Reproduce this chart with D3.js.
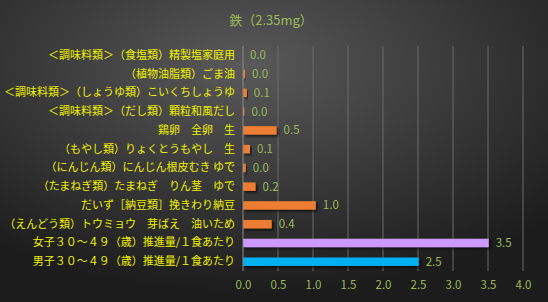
<!DOCTYPE html>
<html>
<head>
<meta charset="utf-8">
<script src="https://cdn.jsdelivr.net/npm/d3@7"></script>
<style>
    body { margin: 0; background: #222; }
    svg text { font-family: "Noto Sans CJK JP", "Noto Sans", sans-serif; }
</style>
</head>
<body>
<div id="chart"></div>
<script>
// 食品名（上から順）
var categories = [
    "＜調味料類＞（食塩類）精製塩家庭用",
    "（植物油脂類）ごま油",
    "＜調味料類＞（しょうゆ類）こいくちしょうゆ",
    "＜調味料類＞（だし類）顆粒和風だし",
    "鶏卵　全卵　生",
    "（もやし類）りょくとうもやし　生",
    "（にんじん類）にんじん根皮むき ゆで",
    "（たまねぎ類）たまねぎ　りん茎　ゆで",
    "だいず［納豆類］挽きわり納豆",
    "（えんどう類）トウミョウ　芽ばえ　油いため",
    "女子３０～４９（歳）推進量/１食あたり",
    "男子３０～４９（歳）推進量/１食あたり"
];
var values = [0.0, 0.03, 0.055, 0.02, 0.48, 0.1, 0.04, 0.18, 1.04, 0.41, 3.51, 2.51];
var labels = ["0.0", "0.0", "0.1", "0.0", "0.5", "0.1", "0.0", "0.2", "1.0", "0.4", "3.5", "2.5"];
var barColors = ["#ed7d31", "#ed7d31", "#ed7d31", "#ed7d31", "#ed7d31", "#ed7d31",
                 "#ed7d31", "#ed7d31", "#ed7d31", "#ed7d31", "#cc99ff", "#00b0f0"];
var xTicks = [0, 0.5, 1.0, 1.5, 2.0, 2.5, 3.0, 3.5, 4.0];

var svgWidth = 548;
var svgHeight = 302;

var margin = { top: 46, right: 25, bottom: 31, left: 243 };
var chartWidth = svgWidth - margin.left - margin.right;
var chartHeight = svgHeight - margin.top - margin.bottom;

var svg = d3.select("#chart")
    .append("svg")
    .attr("width", svgWidth)
    .attr("height", svgHeight);

var defs = svg.append("defs");
var grad = defs.append("radialGradient")
    .attr("id", "bg")
    .attr("cx", "45%").attr("cy", "22%")
    .attr("r", "75%");
grad.append("stop").attr("offset", "0%").attr("stop-color", "#595959");
grad.append("stop").attr("offset", "100%").attr("stop-color", "#1c1c1c");

var shadow = defs.append("filter").attr("id", "shadow")
    .attr("x", "-10%").attr("y", "-50%").attr("width", "130%").attr("height", "220%");
shadow.append("feDropShadow")
    .attr("dx", 2).attr("dy", 2).attr("stdDeviation", 1.2)
    .attr("flood-color", "#000").attr("flood-opacity", 0.6);

svg.append("rect")
    .attr("width", svgWidth).attr("height", svgHeight)
    .attr("fill", "url(#bg)");

svg.append("text")
    .attr("x", 271).attr("y", 25)
    .attr("text-anchor", "middle")
    .attr("font-size", 13)
    .attr("fill", "#9bbb59")
    .text("鉄（2.35mg）");

var chartGroup = svg.append("g")
    .attr("transform", `translate(${margin.left}, ${margin.top})`);

var xScale = d3.scaleLinear()
    .domain([0, 4])
    .range([0, chartWidth]);

var yScale = d3.scaleBand()
    .domain(categories)
    .range([0, chartHeight])
    .paddingInner(0.55)
    .paddingOuter(0.27);

// gridlines
chartGroup.append("g")
    .selectAll("line")
    .data(xTicks.slice(1))
    .enter()
    .append("line")
    .attr("x1", d => xScale(d)).attr("x2", d => xScale(d))
    .attr("y1", 0).attr("y2", chartHeight)
    .attr("stroke", "#6a6a6a")
    .attr("stroke-width", 1);

var bottomAxis = d3.axisBottom(xScale)
    .tickValues(xTicks)
    .tickFormat(d3.format(".1f"))
    .tickSize(0)
    .tickPadding(10);

var xAxisG = chartGroup.append("g")
    .attr("transform", `translate(0, ${chartHeight})`)
    .call(bottomAxis);
xAxisG.select(".domain").remove();
xAxisG.selectAll("text")
    .attr("fill", "#9bbb59")
    .attr("font-size", 11.5)
    .style("font-family", "'Noto Sans CJK JP', sans-serif");

var leftAxis = d3.axisLeft(yScale).tickSize(0).tickPadding(8);
var yAxisG = chartGroup.append("g").call(leftAxis);
yAxisG.select(".domain").remove();
yAxisG.selectAll("text")
    .attr("fill", "#f0f000")
    .attr("font-size", 11)
    .style("font-family", "'Noto Sans CJK JP', sans-serif");

chartGroup.append("g")
    .selectAll("rect")
    .data(values)
    .enter()
    .append("rect")
    .attr("x", xScale(0))
    .attr("y", (d, i) => yScale(categories[i]))
    .attr("width", d => xScale(d) - xScale(0))
    .attr("height", yScale.bandwidth())
    .attr("fill", (d, i) => barColors[i])
    .attr("filter", "url(#shadow)");

// axis line at zero
chartGroup.append("line")
    .attr("x1", xScale(0)).attr("x2", xScale(0))
    .attr("y1", 0).attr("y2", chartHeight)
    .attr("stroke", "#8a8a8a");

chartGroup.append("g")
    .selectAll("text")
    .data(values)
    .enter()
    .append("text")
    .attr("x", d => xScale(d) + 7)
    .attr("y", (d, i) => yScale(categories[i]) + yScale.bandwidth() / 2)
    .attr("dy", "0.35em")
    .attr("font-size", 11.5)
    .attr("fill", "#9bbb59")
    .text((d, i) => labels[i]);
</script>
</body>
</html>
